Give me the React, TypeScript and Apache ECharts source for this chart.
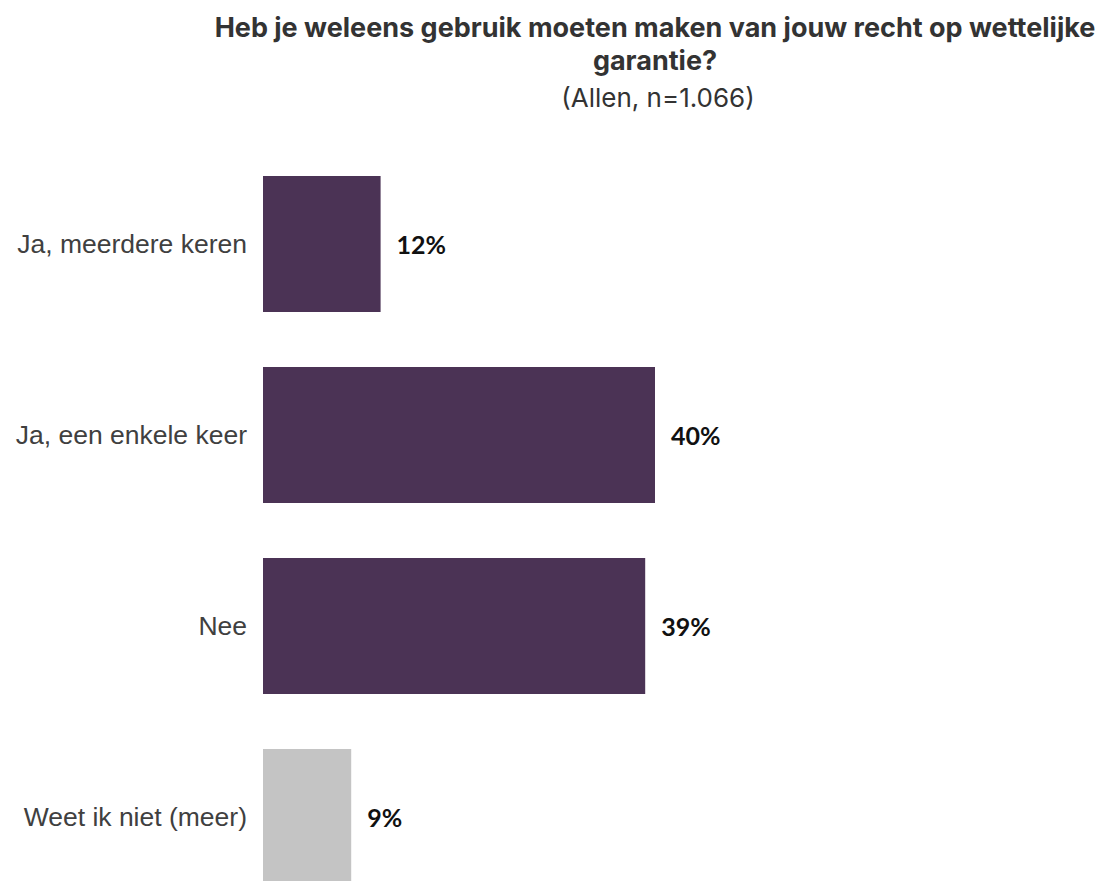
import React, { useEffect, useRef } from "react";
import * as echarts from "echarts";

const categories = ["Ja, meerdere keren", "Ja, een enkele keer", "Nee", "Weet ik niet (meer)"];
const values = [12, 40, 39, 9];
const barColors = ["#4B3355", "#4B3355", "#4B3355", "#C4C4C4"];
const titleLine1 = "Heb je weleens gebruik moeten maken van jouw recht op wettelijke";
const titleLine2 = "garantie?";
const subtitle = "(Allen, n=1.066)";

export default function App() {
  const ref = useRef<HTMLDivElement>(null);
  useEffect(() => {
    if (!ref.current) return;
    const chart = echarts.init(ref.current, null, { renderer: "svg" });
    chart.setOption({
      animation: false,
      backgroundColor: "#ffffff",
      graphic: [
        {
          type: "text",
          x: 655,
          y: 27,
          style: {
            text: titleLine1,
            font: "bold 27px Inter",
            fill: "#333333",
            textAlign: "center",
            textVerticalAlign: "middle",
          },
        },
        {
          type: "text",
          x: 655,
          y: 60,
          style: {
            text: titleLine2,
            font: "bold 27px Inter",
            fill: "#333333",
            textAlign: "center",
            textVerticalAlign: "middle",
          },
        },
        {
          type: "text",
          x: 658,
          y: 97,
          style: {
            text: subtitle,
            font: "26px Inter",
            fill: "#333333",
            textAlign: "center",
            textVerticalAlign: "middle",
          },
        },
      ],
      grid: { left: 263, top: 148.5, height: 764, width: 784, containLabel: false },
      xAxis: {
        type: "value",
        min: 0,
        max: 80,
        show: false,
      },
      yAxis: {
        type: "category",
        data: categories,
        inverse: true,
        axisLine: { show: false },
        axisTick: { show: false },
        splitLine: { show: false },
        axisLabel: {
          margin: 16,
          fontFamily: "Liberation Sans",
          fontSize: 26.5,
          color: "#404040",
        },
      },
      series: [
        {
          type: "bar",
          barWidth: 136,
          data: values.map((v, i) => ({ value: v, itemStyle: { color: barColors[i] } })),
          label: {
            show: true,
            position: "right",
            distance: 16,
            formatter: "{c}%",
            fontFamily: "Lato",
            fontWeight: "bold",
            fontSize: 25,
            color: "#111111",
          },
        },
      ],
    });
    return () => chart.dispose();
  }, []);
  return (
    <div style={{ position: "absolute", left: 0, top: 0, width: 1109, height: 881, overflow: "hidden" }}>
      <div ref={ref} style={{ width: 1109, height: 920 }} />
    </div>
  );
}
